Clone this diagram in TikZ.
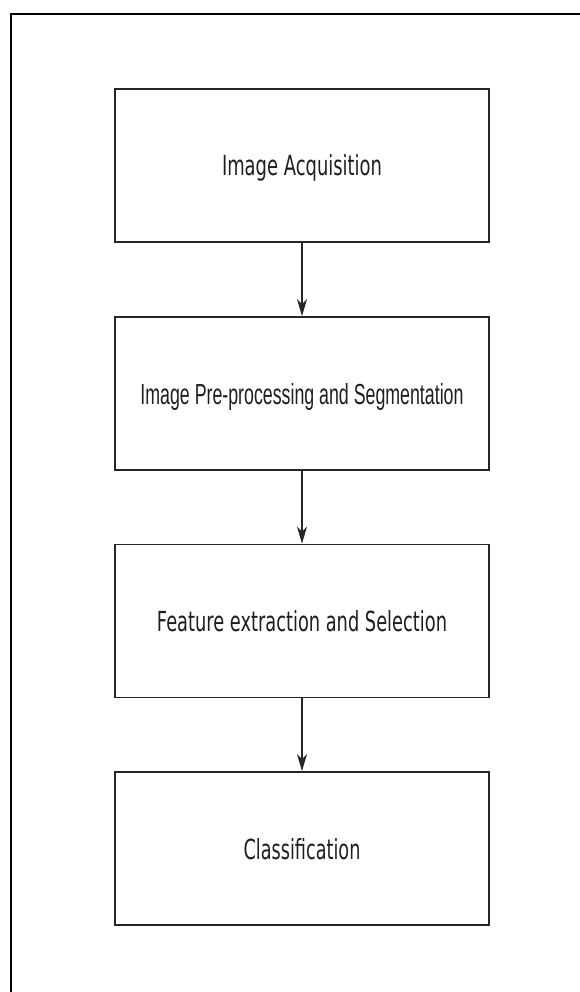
\documentclass[tikz,border=0pt]{standalone}
\usepackage{fontspec}
\setmainfont{DejaVu Sans}
\newfontfamily\arialf{Liberation Sans}
\usetikzlibrary{arrows.meta}
\begin{document}
\begin{tikzpicture}[x=1pt,y=-1pt,
  stepbox/.style={draw=black!85, line width=1.8pt, minimum width=374pt,
    minimum height=153pt, inner sep=0pt, text depth=0pt, text=black!88},
  flow/.style={draw=black!85, line width=1.4pt,
    -{Stealth[length=17pt,width=10pt,inset=5pt]}}]
\useasboundingbox (0,0) rectangle (580,992);
\fill[white] (0,0) rectangle (580,992);
\draw[line width=2pt] (11,993) -- (11,14) -- (581,14);
\node[stepbox] (acq) at (302,165.5) {\resizebox{160pt}{21pt}{Image Acquisition}};
\node[stepbox] (pre) at (302,393.5) {\resizebox{323pt}{21pt}{\arialf Image Pre-processing and Segmentation}};
\node[stepbox] (fea) at (302,621) {\resizebox{290pt}{21pt}{Feature extraction and Selection}};
\node[stepbox] (cls) at (302,848.5) {\resizebox{117pt}{21pt}{Classification}};
\draw[flow] (acq) -- (pre);
\draw[flow] (pre) -- (fea);
\draw[flow] (fea) -- (cls);
\end{tikzpicture}
\end{document}
